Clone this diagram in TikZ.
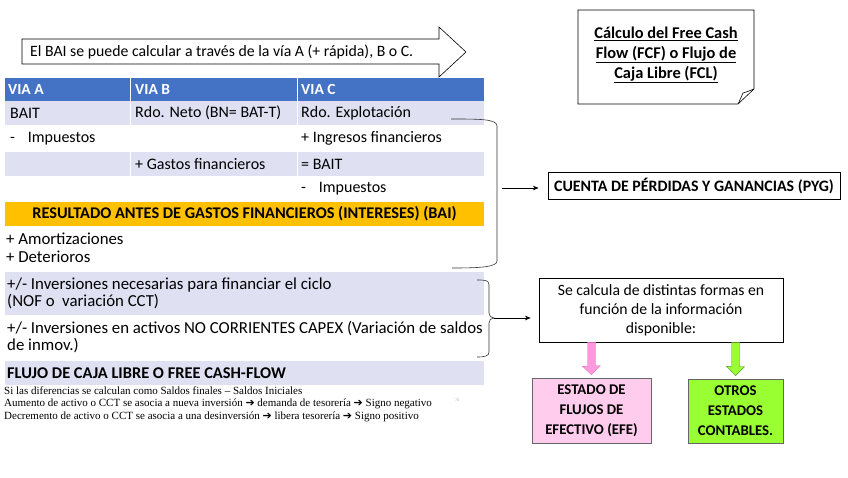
\documentclass[tikz,border=0pt]{standalone}
\usepackage{fontspec}
\setmainfont{Carlito}
\newfontfamily\notefont{Liberation Serif}
\newfontfamily\symfont{DejaVu Sans}
\usetikzlibrary{arrows.meta, positioning, calc}

\definecolor{viablue}{RGB}{68,114,196}
\definecolor{rowlav}{RGB}{223,225,243}
\definecolor{baigold}{RGB}{255,192,0}
\definecolor{efepink}{RGB}{255,204,238}
\definecolor{arrpink}{RGB}{255,153,221}
\definecolor{arrpinkline}{RGB}{240,110,200}
\definecolor{otrogreen}{RGB}{153,255,51}
\definecolor{otroline}{RGB}{90,140,40}

\tikzset{
    cell/.style = {anchor=west, inner sep=0pt, align=left, font=\fontsize{16}{17.5}\selectfont},
    headcell/.style = {cell, text=white, font=\fontsize{15.5}{17}\selectfont\bfseries},
    band/.style = {fill=rowlav, draw=none},
    infobox/.style = {draw, semithick, align=center, inner sep=2pt, font=\fontsize{15.7}{19}\selectfont},
    boldbox/.style = {draw=black!60, semithick, align=center, inner sep=2pt, font=\fontsize{14.8}{20}\selectfont\bfseries},
    link/.style = {-{Stealth[length=2mm, width=1.6mm]}, semithick},
    note/.style = {anchor=west, inner sep=0pt, font=\notefont\fontsize{11}{13}\selectfont}
}

\begin{document}
\begin{tikzpicture}[x=1pt, y=-1pt]
\useasboundingbox (0,0) rectangle (848,477);

% Arrow with the intro text
\draw[fill=white, semithick] (22,39) -- (439,39) -- (439,27) -- (466,52) -- (439,77) -- (439,64) -- (22,64) -- cycle;
\node[cell, font=\fontsize{15.8}{17}\selectfont] (intro) at (30,52) {El BAI se puede calcular a través de la vía A (+ rápida), B o C.};

% Table bands
\fill[viablue] (5,78) rectangle (484,101);
\fill[band] (5,101) rectangle (484,125);
\fill[band] (5,152) rectangle (484,176);
\fill[baigold] (5,202) rectangle (484,226);
\fill[band] (5,272) rectangle (484,315);
\fill[band] (5,361) rectangle (484,385);
\draw[white, thick] (130,78) -- (130,176) (297,78) -- (297,176);

% Header
\node[headcell] (hA) at (8,89.5) {VIA A};
\node[headcell] (hB) at (135,89.5) {VIA B};
\node[headcell] (hC) at (301,89.5) {VIA C};

% Rows
\node[cell] (a1) at (10,113) {BAIT};
\node[cell] (b1) at (135,113) {Rdo. Neto (BN= BAT-T)};
\node[cell] (c1) at (301,113) {Rdo. Explotación};
\node[cell] (a2) at (10,138.5) {-\hspace{0.8em}Impuestos};
\node[cell] (c2) at (301,138.5) {+ Ingresos financieros};
\node[cell] (b3) at (135,164) {+ Gastos financieros};
\node[cell] (c3) at (301,164) {= BAIT};
\node[cell] (c4) at (301,189) {-\hspace{0.8em}Impuestos};
\node[cell, anchor=center, font=\fontsize{16.3}{18}\selectfont\bfseries] (bai) at (244.5,214) {RESULTADO ANTES DE GASTOS FINANCIEROS (INTERESES) (BAI)};
\node[cell, font=\fontsize{16.8}{17.5}\selectfont] (amort) at (6,247.5) {+ Amortizaciones\\+ Deterioros};
\node[cell, font=\fontsize{16.8}{17.5}\selectfont] (nof) at (7,293.5) {+/- Inversiones necesarias para financiar el ciclo\\(NOF o\ \ variación CCT)};
\node[cell, font=\fontsize{16.8}{17.5}\selectfont] (capex) at (7,337) {+/- Inversiones en activos NO CORRIENTES CAPEX (Variación de saldos\\de inmov.)};
\node[cell, font=\fontsize{16.4}{18}\selectfont\bfseries] (fcf) at (7,373.5) {FLUJO DE CAJA LIBRE O FREE CASH-FLOW};

% Notes
\node[note] (n1) at (4,391) {Si las diferencias se calculan como Saldos finales – Saldos Iniciales};
\node[note] (n2) at (4,404) {Aumento de activo o CCT se asocia a nueva inversión {\symfont ➔} demanda de tesorería {\symfont ➔} Signo negativo};
\node[note] (n3) at (4,417) {Decremento de activo o CCT se asocia a una desinversión {\symfont ➔} libera tesorería {\symfont ➔} Signo positivo};
\node[note, font=\notefont\fontsize{4}{5}\selectfont, text=black!35] (pg) at (455,400) {70};

% Title note with folded corner
\draw[semithick, fill=white] (578,10) -- (754,10) -- (754,89) -- (738,104) -- (578,104) -- cycle;
\draw[semithick] (738,104) .. controls (741,98) and (742,95) .. (743,93) .. controls (747,92) and (751,90) .. (754,89);
\node[align=center, font=\fontsize{16.4}{20}\selectfont\bfseries] (title) at (666,55) {\underline{Cálculo del Free Cash}\\\underline{Flow (FCF) o Flujo de}\\\underline{Caja Libre (FCL)}};

% Right side boxes
\node[draw, thick, minimum width=292pt, minimum height=27pt, font=\fontsize{15.9}{18}\selectfont\bfseries] (pyg) at (694,186) {CUENTA DE PÉRDIDAS Y GANANCIAS (PYG)};
\node[infobox, minimum width=244pt, minimum height=64pt] (calc) at (661,310) {Se calcula de distintas formas en\\función de la información\\disponible:};
\node[boldbox, fill=efepink, minimum width=119pt, minimum height=65pt] (efe) at (591.5,410.5) {ESTADO DE\\FLUJOS DE\\EFECTIVO (EFE)};
\node[boldbox, fill=otrogreen, minimum width=95pt, minimum height=64pt] (otros) at (735.5,411) {OTROS\\ESTADOS\\CONTABLES.};

% Brace over the PYG rows
\draw[semithick, black!80] (451,119) .. controls (480,119) and (497,119) .. (497,126) -- (497,261) .. controls (497,267) and (480,268) .. (452,268);
\coordinate (brPyg) at (502,188);
\draw[link, shorten >=9pt] (brPyg) -- (brPyg -| pyg.west);

% Brace over the investment rows
\draw[semithick, black!80] (477,280) .. controls (485,280) and (489,280) .. (489,285) -- (489,313) .. controls (489,316) and (491,318) .. (494,318) .. controls (491,318) and (489,320) .. (489,323) -- (489,352) .. controls (489,356) and (485,357) .. (477,357);
\coordinate (brInv) at (494,318);
\draw[link, shorten >=8pt] (brInv) -- (brInv -| calc.west);

% Fat arrows down to the statements
\draw[fill=arrpink, draw=arrpinkline] ($(calc.south -| efe.north)+(-4,0)$) -- ++(0,24) -- ++(-5,0) -- ($(efe.north)+(0,-3)$) -- ++(9,-9) -- ++(-5,0) -- ($(calc.south -| efe.north)+(4,0)$) -- cycle;
\draw[fill=otrogreen, draw=otroline] ($(calc.south -| otros.north)+(-4,0)$) -- ++(0,24) -- ++(-5,0) -- ($(otros.north)+(0,-3)$) -- ++(9,-9) -- ++(-5,0) -- ($(calc.south -| otros.north)+(4,0)$) -- cycle;
\end{tikzpicture}
\end{document}
